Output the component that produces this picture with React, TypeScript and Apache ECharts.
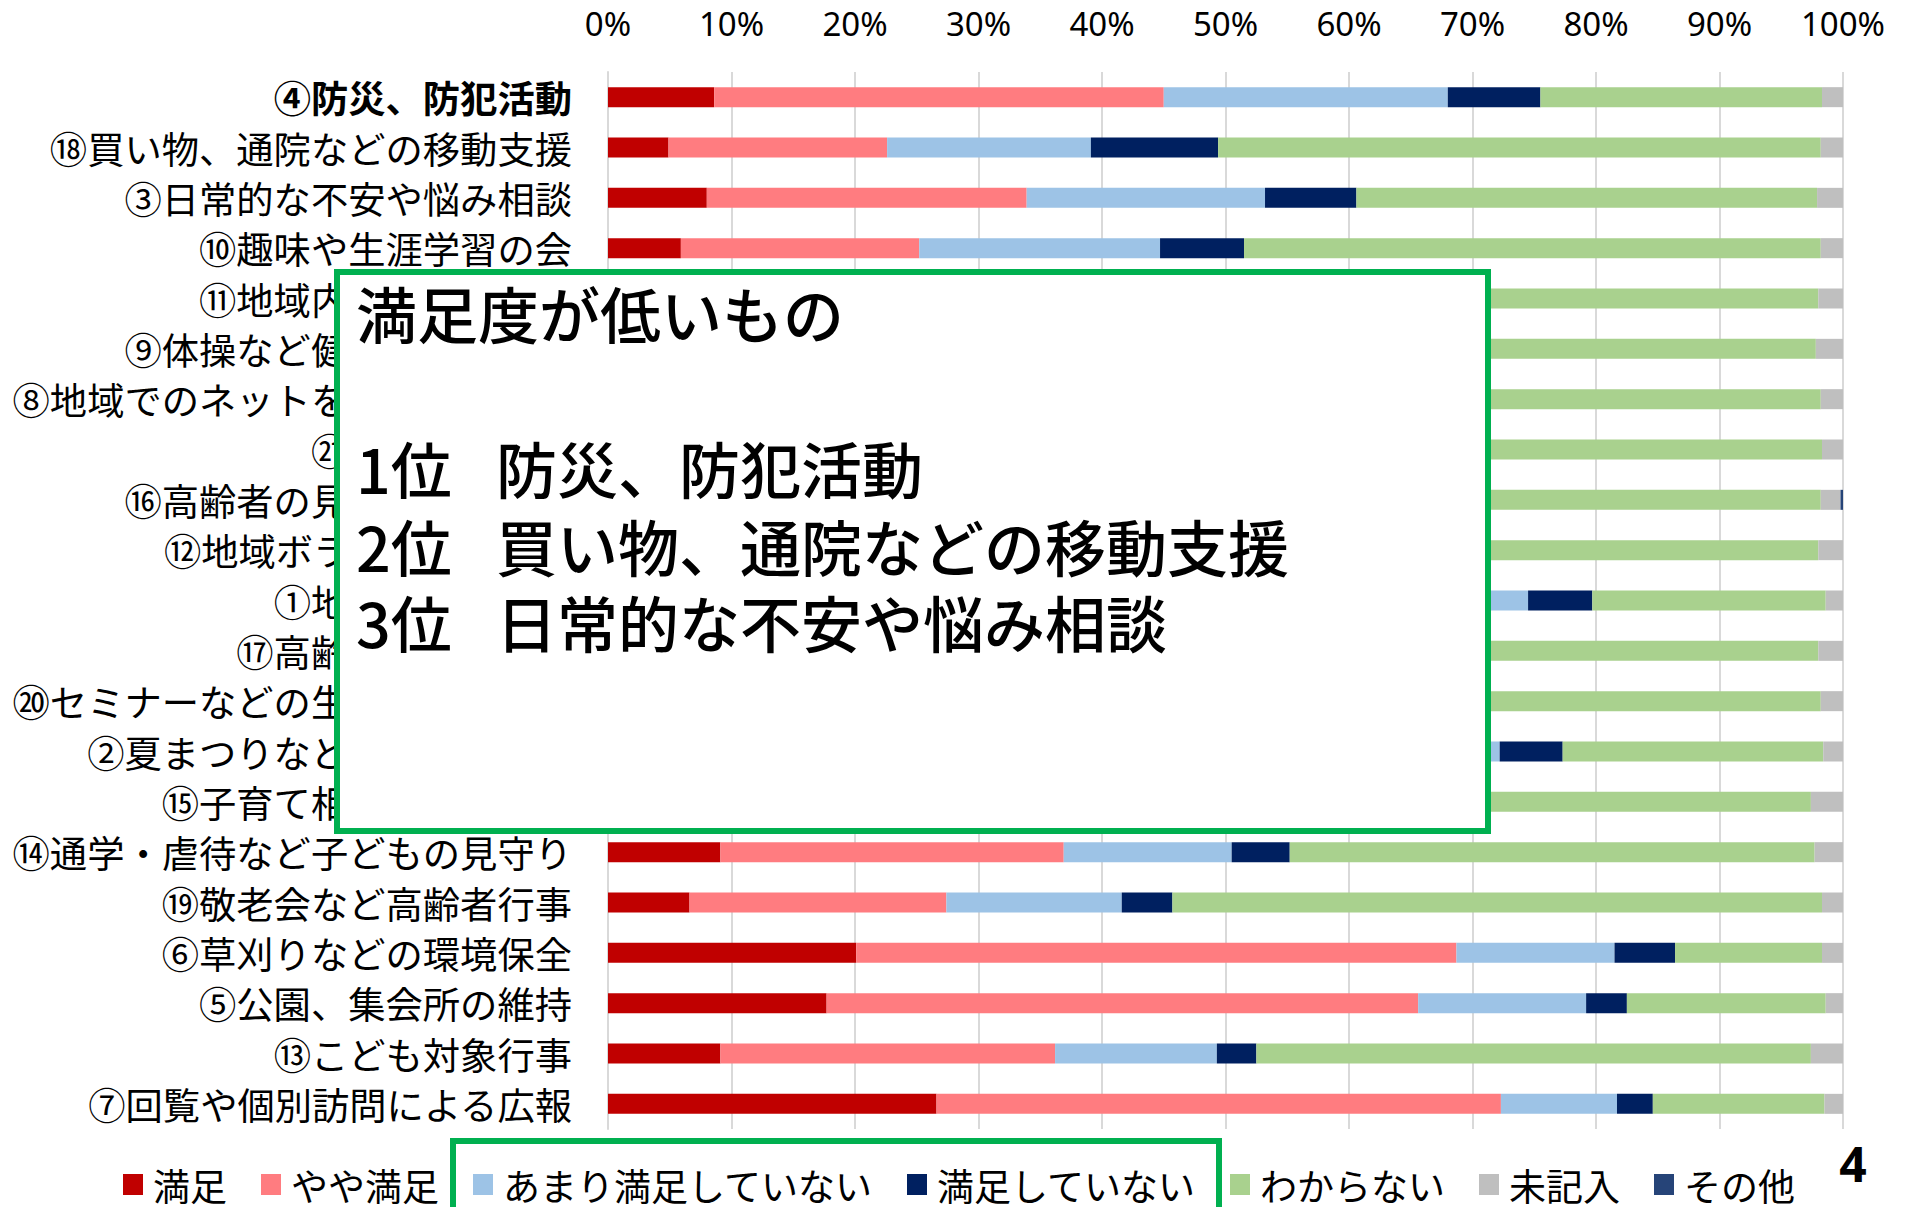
import React, { useEffect, useRef } from "react";
import * as echarts from "echarts";

const categories = [
  "④防災、防犯活動",
  "⑱買い物、通院などの移動支援",
  "③日常的な不安や悩み相談",
  "⑩趣味や生涯学習の会",
  "⑪地域内の交流・親睦",
  "⑨体操など健康づくりの会",
  "⑧地域でのネットを活用した発信",
  "㉑資源回収活動",
  "⑯高齢者の見守り・声かけ",
  "⑫地域ボランティア活動",
  "①地域の清掃活動",
  "⑰高齢者サロン活動",
  "⑳セミナーなどの生涯学習の機会",
  "②夏まつりなどの親睦交流会",
  "⑮子育て相談・支援活動",
  "⑭通学・虐待など子どもの見守り",
  "⑲敬老会など高齢者行事",
  "⑥草刈りなどの環境保全",
  "⑤公園、集会所の維持",
  "⑬こども対象行事",
  "⑦回覧や個別訪問による広報",
];

const seriesNames = ["満足", "やや満足", "あまり満足していない", "満足していない", "わからない", "未記入", "その他"];

const satisfied = [8.6, 4.9, 8.0, 5.9, 6, 5, 3, 7, 6, 5, 14, 6, 4, 15, 4, 9.1, 6.6, 20.1, 17.7, 9.1, 26.6];
const somewhat = [36.4, 17.7, 25.9, 19.3, 22, 18, 12, 25, 24, 20, 44.2, 22, 16, 42.2, 15, 27.8, 20.8, 48.6, 47.9, 27.1, 45.7];
const notVery = [23.0, 16.5, 19.3, 19.5, 19, 18.5, 17, 17, 17, 16, 16.3, 15, 15, 15, 14, 13.6, 14.2, 12.8, 13.6, 13.1, 9.4];
const dissatisfied = [7.5, 10.3, 7.4, 6.8, 6, 6, 7, 6, 5.5, 6, 5.2, 6, 5.5, 5.1, 5, 4.7, 4.1, 4.9, 3.3, 3.2, 2.9];
const unknown = [22.8, 48.8, 37.3, 46.7, 45, 50.3, 59.2, 43.3, 45.7, 51, 18.9, 49, 57.7, 21.1, 59.4, 42.5, 52.6, 11.9, 16.1, 44.9, 13.9];
const blank = [1.7, 1.8, 2.1, 1.8, 2.0, 2.2, 1.8, 1.7, 1.6, 2.0, 1.4, 2.0, 1.8, 1.6, 2.6, 2.3, 1.7, 1.7, 1.4, 2.6, 1.5];
const other = [0, 0, 0, 0, 0, 0, 0, 0, 0.2, 0, 0, 0, 0, 0, 0, 0, 0, 0, 0, 0, 0];

const xTicks = [0, 10, 20, 30, 40, 50, 60, 70, 80, 90, 100];

const boxTitle = "満足度が低いもの";
const ranks = ["1位", "2位", "3位"];
const rankItems = ["防災、防犯活動", "買い物、通院などの移動支援", "日常的な不安や悩み相談"];
const pageNumber = "4";

const COLORS = ["#c00000", "#ff7c80", "#9dc3e6", "#002060", "#a9d18e", "#bfbfbf", "#264478"];
const JP = '"Noto Sans CJK JP", "Noto Sans", sans-serif';

export default function App() {
  const ref = useRef<HTMLDivElement>(null);
  useEffect(() => {
    document.body.style.margin = "0";
    if (!ref.current) return;
    const chart = echarts.init(ref.current, null, { renderer: "svg" });
    const values = [satisfied, somewhat, notVery, dissatisfied, unknown, blank, other];
    const rankYs = [467, 545, 621];
    const boxText = { fontSize: 61, fontFamily: JP, fontWeight: 500, fill: "#000", textVerticalAlign: "middle", verticalAlign: "middle" };
    const graphic: any[] = [
      {
        type: "rect",
        z: 100,
        shape: { x: 337, y: 272, width: 1151, height: 559 },
        style: { fill: "#ffffff", stroke: "#00b050", lineWidth: 6 },
      },
      {
        type: "text",
        z: 101,
        x: 356,
        y: 312,
        style: { ...boxText, text: boxTitle },
      },
      ...ranks.map((r, i) => ({
        type: "text",
        z: 101,
        x: 356,
        y: rankYs[i],
        style: { ...boxText, text: r },
      })),
      ...rankItems.map((t, i) => ({
        type: "text",
        z: 101,
        x: 496,
        y: rankYs[i],
        style: { ...boxText, text: t },
      })),
      {
        type: "rect",
        z: 100,
        shape: { x: 453, y: 1141, width: 766, height: 100 },
        style: { fill: "rgba(0,0,0,0)", stroke: "#00b050", lineWidth: 6 },
      },
      {
        type: "text",
        z: 101,
        x: 1853,
        y: 1163,
        style: {
          text: pageNumber,
          fontSize: 48,
          fontWeight: "bold",
          fontFamily: '"Noto Sans", sans-serif',
          fill: "#000",
          textAlign: "center",
          align: "center",
          textVerticalAlign: "middle",
          verticalAlign: "middle",
        },
      },
    ];
    const option: any = {
      animation: false,
      backgroundColor: "#ffffff",
      textStyle: { fontFamily: JP },
      grid: { left: 608, right: 64, top: 72, bottom: 78, containLabel: false },
      xAxis: {
        type: "value",
        position: "top",
        min: xTicks[0],
        max: xTicks[xTicks.length - 1],
        interval: 10,
        axisLabel: {
          formatter: "{value}%",
          fontSize: 33,
          color: "#000",
          margin: 32,
          fontFamily: '"Noto Sans", sans-serif',
        },
        splitLine: { show: true, lineStyle: { color: "#d9d9d9", width: 2 } },
        axisLine: { show: false },
        axisTick: { show: false },
      },
      yAxis: {
        type: "category",
        inverse: true,
        data: categories,
        axisLabel: {
          fontSize: 37.3,
          color: "#000",
          margin: 36,
          fontFamily: JP,
          formatter: (v: string, i: number) => (i === 0 ? `{b|${v}}` : v),
          rich: { b: { fontWeight: "bold", fontSize: 37.3, color: "#000", fontFamily: JP } },
        },
        axisLine: { show: true, lineStyle: { color: "#d9d9d9", width: 2 } },
        axisTick: { show: false },
      },
      legend: {
        left: 118,
        top: 1161,
        itemWidth: 20,
        itemHeight: 21,
        itemGap: 34,
        icon: "rect",
        data: seriesNames,
        textStyle: { fontSize: 37, color: "#000", fontFamily: JP, padding: [0, 0, 0, 5] },
      },
      series: seriesNames.map((name, k) => ({
        name,
        type: "bar",
        stack: "total",
        barWidth: 20,
        itemStyle: { color: COLORS[k] },
        data: values[k],
      })),
      graphic,
    };
    chart.setOption(option);
    return () => chart.dispose();
  }, []);
  return <div ref={ref} style={{ width: 1907, height: 1207 }} />;
}
